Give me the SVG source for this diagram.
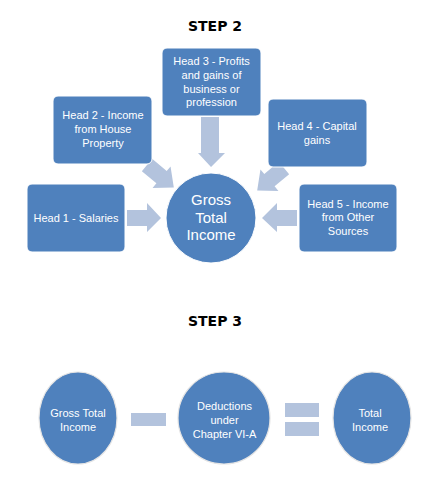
<svg xmlns="http://www.w3.org/2000/svg" width="445" height="485" viewBox="0 0 445 485">
<style>
.box{fill:#4F81BD;stroke:#ffffff;stroke-width:1}
.arr{fill:#B3C3DD}
.t{font-family:"Liberation Sans",Arial,sans-serif;font-size:11px;fill:#ffffff;text-anchor:middle}
.tb{font-family:"Liberation Sans",Arial,sans-serif;font-size:15px;fill:#ffffff;text-anchor:middle}
.title{font-family:"DejaVu Sans",Verdana,sans-serif;font-size:14px;font-weight:bold;fill:#000000;text-anchor:middle}
.circ3{fill:#4F81BD;stroke:#e4e4e4;stroke-width:1.2}
</style>
<rect width="445" height="485" fill="#ffffff"/>
<text class="title" x="215" y="31">STEP 2</text>
<g id="connectors">
<polygon class="arr" points="201,117 219,117 219,153 225,153 211,167 198,153 201,153"/>
<polygon class="arr" points="127,210 147,210 147,203 161,218 147,232 147,226 127,226"/>
<polygon class="arr" points="297,210 277,210 277,203 262,218 277,232 277,226 297,226"/>
<polygon class="arr" transform="rotate(40 147 165)" points="147,157 166,157 166,151 182,165 166,179 166,173 147,173"/>
<polygon class="arr" transform="rotate(140 284 168)" points="284,160 303,160 303,154 319,168 303,182 303,176 284,176"/>
</g>
<g id="head3">
<rect class="box" x="162" y="48" width="99" height="68" rx="5"/>
<text class="t" x="211.5" y="65">Head 3 - Profits</text>
<text class="t" x="211.5" y="79">and gains of</text>
<text class="t" x="211.5" y="93">business or</text>
<text class="t" x="211.5" y="106">profession</text>
</g>
<g id="head2">
<rect class="box" x="53" y="96" width="99" height="68" rx="5"/>
<text class="t" x="103" y="119">Head 2 - Income</text>
<text class="t" x="103" y="133">from House</text>
<text class="t" x="103" y="147">Property</text>
</g>
<g id="head4">
<rect class="box" x="268" y="99" width="99" height="68" rx="5"/>
<text class="t" x="317" y="130">Head 4 - Capital</text>
<text class="t" x="317" y="144">gains</text>
</g>
<g id="head1">
<rect class="box" x="27" y="184" width="98" height="68" rx="5"/>
<text class="t" x="76" y="222">Head 1 - Salaries</text>
</g>
<g id="head5">
<rect class="box" x="299" y="184" width="98" height="68" rx="5"/>
<text class="t" x="348" y="208">Head 5 - Income</text>
<text class="t" x="348" y="221">from Other</text>
<text class="t" x="348" y="235">Sources</text>
</g>
<g id="gross">
<circle class="box" cx="211" cy="218" r="45"/>
<text class="tb" x="211" y="205">Gross</text>
<text class="tb" x="211" y="223">Total</text>
<text class="tb" x="211" y="240">Income</text>
</g>
<text class="title" x="215" y="326">STEP 3</text>
<g id="step3-operators">
<rect class="arr" x="131" y="413" width="35" height="13"/>
<rect class="arr" x="285" y="403" width="34" height="14"/>
<rect class="arr" x="285" y="422" width="34" height="14"/>
</g>
<g id="gti">
<ellipse class="circ3" cx="78" cy="418" rx="39" ry="46"/>
<text class="t" x="78" y="417">Gross Total</text>
<text class="t" x="78" y="431">Income</text>
</g>
<g id="deductions">
<ellipse class="circ3" cx="224" cy="418" rx="46" ry="46"/>
<text class="t" x="224.5" y="410">Deductions</text>
<text class="t" x="224.5" y="424">under</text>
<text class="t" x="224.5" y="438">Chapter VI-A</text>
</g>
<g id="total">
<ellipse class="circ3" cx="372" cy="418" rx="39" ry="46"/>
<text class="t" x="370" y="417">Total</text>
<text class="t" x="370" y="431">Income</text>
</g>
</svg>
